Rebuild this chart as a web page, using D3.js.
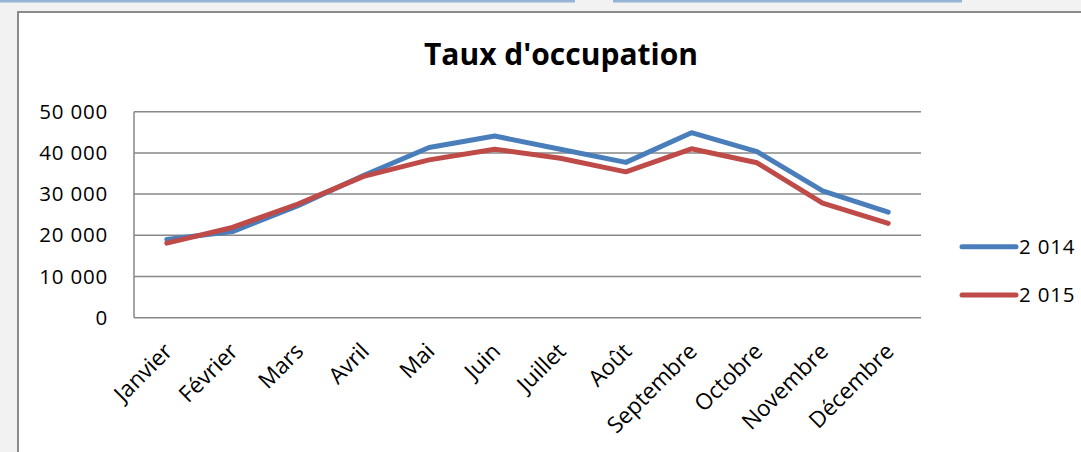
<!DOCTYPE html>
<html><head><meta charset="utf-8">
<script src="https://cdnjs.cloudflare.com/ajax/libs/d3/7.8.5/d3.min.js"></script>
<style>
html,body{margin:0;padding:0;background:#f2f2f2;overflow:hidden;}
svg{display:block;}
</style></head>
<body>
<svg id="c" width="1081" height="452"></svg>
<script>
const months = ["Janvier","Février","Mars","Avril","Mai","Juin","Juillet","Août","Septembre","Octobre","Novembre","Décembre"];
const series2014 = [19000,20900,27200,34500,41300,44100,40900,37700,44900,40300,30800,25600];
const series2015 = [18100,21900,27600,34300,38300,40900,38700,35400,41000,37600,27800,22900];
const seriesNames = ["2 014","2 015"];
const yTicks = [0,10000,20000,30000,40000,50000];
const title = "Taux d'occupation";

const colors = ["#4a7ebb","#be4b48"];
const font = "'Open Sans', sans-serif";
const svg = d3.select("#c");

// top tab bars
svg.append("rect").attr("x",0).attr("y",0).attr("width",575).attr("height",2.5).attr("fill","#95b3d7");
svg.append("rect").attr("x",613).attr("y",0).attr("width",349).attr("height",2.5).attr("fill","#95b3d7");

// chart box
svg.append("rect").attr("x",18).attr("y",12).attr("width",1100).attr("height",500)
  .attr("fill","#ffffff").attr("stroke","#8a8a8a").attr("stroke-width",2);

const L=134, R=921, T=111.7, B=317.7;
const x = d3.scaleBand().domain(months).range([L,R]);
const y = d3.scaleLinear().domain([0,50000]).range([B,T]);
const fmt = v => d3.format(",")(v).replace(/,/g," ");

// gridlines
svg.append("g").selectAll("line").data(yTicks).join("line")
  .attr("x1",L).attr("x2",R).attr("y1",d=>y(d)).attr("y2",d=>y(d))
  .attr("stroke","#878787").attr("stroke-width",1.5);
svg.append("line").attr("x1",L).attr("x2",L).attr("y1",T).attr("y2",B)
  .attr("stroke","#878787").attr("stroke-width",1.5);

// y axis
const ya = svg.append("g").attr("transform",`translate(${L},0)`)
  .call(d3.axisLeft(y).tickValues(yTicks).tickFormat(fmt).tickSize(0).tickPadding(26));
ya.select(".domain").remove();
ya.selectAll("text").attr("font-family",font).attr("font-size",20.5).attr("letter-spacing","0.8px").attr("fill","#000");

// x axis
const xa = svg.append("g").attr("transform",`translate(0,${B})`)
  .call(d3.axisBottom(x).tickSize(0));
xa.select(".domain").remove();
xa.selectAll("text").attr("font-family",font).attr("font-size",22.5).attr("fill","#000")
  .attr("text-anchor","end").attr("dy",0).attr("y",0)
  .attr("transform","translate(7,35) rotate(-45)");

// lines
const line = d3.line().x((d,i)=>x(months[i])+x.bandwidth()/2).y(d=>y(d));
[series2014,series2015].forEach((s,k)=>{
  svg.append("path").datum(s).attr("d",line).attr("fill","none")
    .attr("stroke",colors[k]).attr("stroke-width",5).attr("stroke-linejoin","round").attr("stroke-linecap","round");
});

// title
svg.append("text").attr("x",561).attr("y",65).attr("text-anchor","middle")
  .attr("font-family",font).attr("font-weight","bold").attr("font-size",30).attr("fill","#000").text(title);

// legend
seriesNames.forEach((n,k)=>{
  const ly = 246.7 + k*48.3;
  svg.append("line").attr("x1",962).attr("x2",1016).attr("y1",ly).attr("y2",ly)
    .attr("stroke",colors[k]).attr("stroke-width",5).attr("stroke-linecap","round");
  svg.append("text").attr("x",1019).attr("y",ly).attr("dy","0.36em")
    .attr("font-family",font).attr("font-size",20.5).attr("letter-spacing","0.8px").attr("fill","#000").text(n);
});
</script>
</body></html>
